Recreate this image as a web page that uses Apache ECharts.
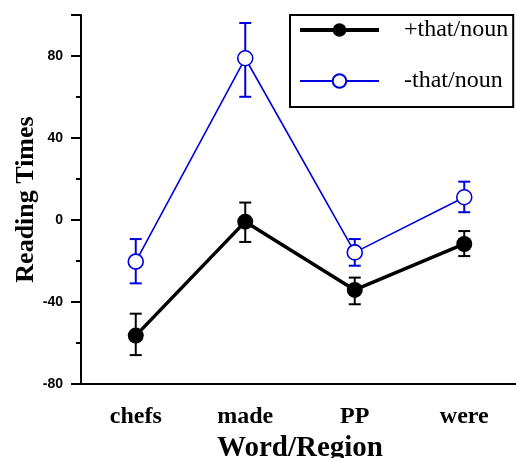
<!DOCTYPE html>
<html><head><meta charset="utf-8">
<script src="https://cdn.jsdelivr.net/npm/echarts@6/dist/echarts.min.js"></script>
<style>html,body{margin:0;padding:0;background:#fff}#c{width:516px;height:458px}</style>
</head><body><div id="c"></div>
<script>
const categories = ['chefs', 'made', 'PP', 'were'];
const thatMean = [-56.4, -0.8, -34.1, -11.7];
const thatLow = [-65.9, -10.7, -41.1, -17.6];
const thatHigh = [-45.7, 8.5, -28.1, -5.4];
const noThatMean = [-20.3, 78.9, -15.8, 11.1];
const noThatLow = [-30.9, 60.1, -22.3, 3.8];
const noThatHigh = [-9.3, 96.1, -9.3, 18.7];
const yTicks = [-80, -40, 0, 40, 80];

const chart = echarts.init(document.getElementById('c'), null, {renderer: 'canvas'});

function errData(lo, hi) { return categories.map((c, i) => [i, lo[i], hi[i]]); }
function errSeries(lo, hi, color, w) {
  return {
    type: 'custom', silent: true, z: 1,
    data: errData(lo, hi),
    renderItem: function (params, api) {
      const x = api.value(0);
      const a = api.coord([x, api.value(1)]);
      const b = api.coord([x, api.value(2)]);
      const hw = 6;
      const st = {stroke: color, lineWidth: w, fill: null};
      return {type: 'group', children: [
        {type: 'line', shape: {x1: a[0], y1: a[1], x2: b[0], y2: b[1]}, style: st},
        {type: 'line', shape: {x1: a[0] - hw, y1: a[1], x2: a[0] + hw, y2: a[1]}, style: st},
        {type: 'line', shape: {x1: b[0] - hw, y1: b[1], x2: b[0] + hw, y2: b[1]}, style: st}
      ]};
    }
  };
}

chart.setOption({
  animation: false,
  grid: {left: 81, right: -3, top: 15, bottom: 74, containLabel: false, outerBoundsMode: 'none'},
  legend: {
    orient: 'vertical', left: 290, top: 15,
    data: [
      {name: '+that/noun', lineStyle: {width: 4}},
      {name: '-that/noun', lineStyle: {width: 2}}
    ],
    itemWidth: 79, itemHeight: 17, itemGap: 27,
    padding: [3, 5, 14, 8],
    borderColor: '#000', borderWidth: 2, backgroundColor: '#fff',
    textStyle: {fontFamily: 'Liberation Serif', fontSize: 24, color: '#000', padding: [0, 0, 0, 20]}
  },
  xAxis: {
    type: 'category', data: categories,
    name: 'Word/Region', nameLocation: 'middle', nameGap: 50, nameMoveOverlap: false,
    nameTextStyle: {fontFamily: 'Liberation Serif', fontWeight: 'bold', fontSize: 29, color: '#000'},
    axisLine: {onZero: false, lineStyle: {color: '#000', width: 2}},
    axisTick: {alignWithLabel: true, length: 8, lineStyle: {color: '#000', width: 2}},
    axisLabel: {fontFamily: 'Liberation Serif', fontWeight: 'bold', fontSize: 24, color: '#000', margin: 21},
    splitLine: {show: false}
  },
  yAxis: {
    type: 'value', min: -80, max: 100, interval: 40,
    name: 'Reading Times', nameLocation: 'middle', nameGap: 42, nameMoveOverlap: false,
    nameTextStyle: {fontFamily: 'Liberation Serif', fontWeight: 'bold', fontSize: 26, color: '#000'},
    axisLine: {show: true, onZero: false, lineStyle: {color: '#000', width: 2}},
    axisTick: {show: true, length: 10, lineStyle: {color: '#000', width: 2}},
    minorTick: {show: true, splitNumber: 2, length: 5, lineStyle: {color: '#000', width: 2}},
    axisLabel: {fontFamily: 'Liberation Sans', fontWeight: 'bold', fontSize: 14, color: '#000', margin: 18,
      formatter: v => yTicks.includes(v) ? String(v) : ''},
    splitLine: {show: false}, minorSplitLine: {show: false}
  },
  series: [
    errSeries(thatLow, thatHigh, '#000', 2),
    errSeries(noThatLow, noThatHigh, '#0000dd', 2),
    {name: '+that/noun', type: 'line', data: thatMean, z: 3,
      symbol: 'circle', symbolSize: 16,
      lineStyle: {color: '#000', width: 3.5}, itemStyle: {color: '#000', borderColor: '#000', borderWidth: 0}},
    {name: '-that/noun', type: 'line', data: noThatMean, z: 4,
      symbol: 'circle', symbolSize: 15,
      lineStyle: {color: '#0000dd', width: 1.6}, itemStyle: {color: '#fff', borderColor: '#0000dd', borderWidth: 1.6}}
  ]
});
</script></body></html>
